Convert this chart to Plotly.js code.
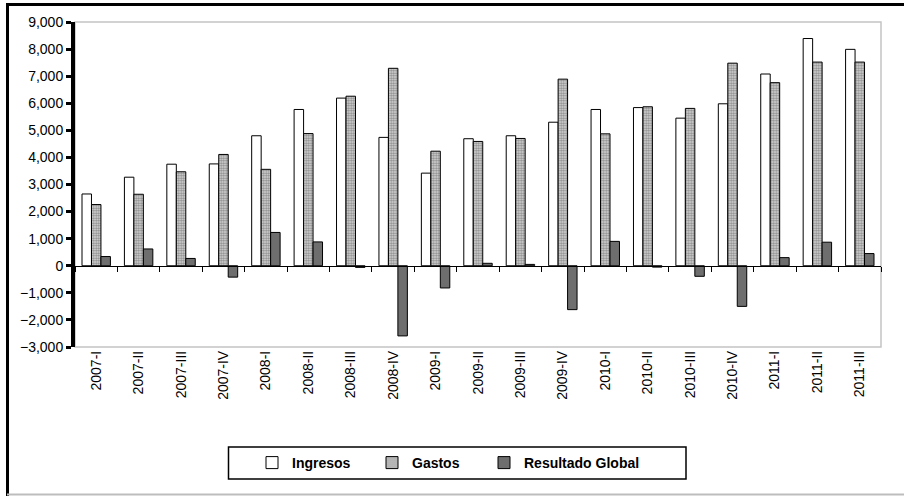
<!DOCTYPE html>
<html>
<head>
<meta charset="utf-8">
<script src="https://cdn.plot.ly/plotly-3.0.1.min.js"></script>
<style>
  html, body { margin: 0; padding: 0; background: #ffffff; }
  #chart { width: 904px; height: 496px; }
</style>
</head>
<body>
<div id="chart"></div>
<script>
const quarters = ["2007-I","2007-II","2007-III","2007-IV","2008-I","2008-II","2008-III","2008-IV",
  "2009-I","2009-II","2009-III","2009-IV","2010-I","2010-II","2010-III","2010-IV","2011-I","2011-II","2011-III"];
const ingresos = [2650, 3270, 3750, 3760, 4800, 5770, 6190, 4740, 3420, 4690, 4800, 5300, 5770, 5840, 5450, 5980, 7080, 8390, 7990];
const gastos   = [2260, 2640, 3470, 4110, 3560, 4880, 6260, 7290, 4230, 4590, 4700, 6890, 4870, 5870, 5810, 7480, 6760, 7520, 7520];
const resultado = [340, 620, 270, -420, 1230, 880, -60, -2590, -820, 90, 50, -1620, 900, -50, -390, -1500, 300, 870, 450];
const seriesNames = ["Ingresos", "Gastos", "Resultado Global"];

const FONT = '"Liberation Sans", Arial, sans-serif';
const NARROW = '"Liberation Sans Narrow", "Arial Narrow", "Liberation Sans", Arial, sans-serif';

const traces = [
  {
    type: 'bar', name: seriesNames[0], x: quarters, y: ingresos, legendwidth: 75,
    marker: { color: '#ffffff', line: { color: '#000000', width: 1 } },
    hoverinfo: 'x+y+name'
  },
  {
    type: 'bar', name: seriesNames[1], x: quarters, y: gastos, legendwidth: 67,
    marker: {
      color: '#d0d0d0',
      line: { color: '#000000', width: 1 },
      pattern: { shape: '.', size: 2.5, solidity: 0.6, fgcolor: '#8a8a8a', bgcolor: '#e2e2e2', fillmode: 'replace' }
    },
    hoverinfo: 'x+y+name'
  },
  {
    type: 'bar', name: seriesNames[2], x: quarters, y: resultado, legendwidth: 125,
    marker: { color: '#6e6e6e', line: { color: '#000000', width: 1 } },
    hoverinfo: 'x+y+name'
  },
  {
    type: 'scatter', mode: 'none', x: quarters, y: resultado,
    xaxis: 'x2', yaxis: 'y', showlegend: false, hoverinfo: 'skip'
  }
];

const L = 75, R = 881, T = 22, B = 347, W = 904, H = 496;
const px = v => (v - L) / (R - L);
const py = v => (B - v) / (B - T);

const layout = {
  width: W, height: H,
  margin: { l: L, r: W - R, t: T, b: H - B, pad: 0 },
  paper_bgcolor: '#ffffff', plot_bgcolor: '#ffffff',
  font: { family: FONT, color: '#000000', size: 13 },
  barmode: 'group', bargap: 0.33, bargroupgap: 0,
  showlegend: true,
  legend: {
    orientation: 'h', x: px(252), xanchor: 'left', y: py(463), yanchor: 'middle',
    font: { family: FONT, size: 14, color: '#000000', weight: 'bold' },
    bgcolor: 'rgba(0,0,0,0)', borderwidth: 0, itemwidth: 30, traceorder: 'normal'
  },
  xaxis: {
    type: 'category', categoryarray: quarters, range: [-0.5, quarters.length - 0.5],
    anchor: 'free', position: 0.25,
    showline: true, linecolor: '#000000', linewidth: 1,
    ticks: 'outside', tickson: 'boundaries', ticklen: 5, tickwidth: 1, tickcolor: '#000000',
    showticklabels: false, showgrid: false, zeroline: false, fixedrange: true
  },
  xaxis2: {
    type: 'category', categoryarray: quarters, range: [-0.5, quarters.length - 0.5],
    overlaying: 'x', anchor: 'y', side: 'bottom',
    showline: false, ticks: '', showgrid: false, zeroline: false,
    tickangle: -90, tickfont: { family: NARROW, size: 14, color: '#000000' },
    fixedrange: true
  },
  yaxis: {
    range: [-3000, 9000], dtick: 1000, tick0: 0, tickformat: ',d',
    showline: true, linecolor: '#000000', linewidth: 4,
    ticks: 'outside', ticklen: 5, tickwidth: 3, tickcolor: '#000000',
    tickfont: { family: FONT, size: 14, color: '#000000' },
    showgrid: false, zeroline: false, fixedrange: true
  },
  shapes: [
    { type: 'rect', xref: 'paper', yref: 'paper', x0: 0, x1: 1, y0: 0, y1: 1,
      line: { color: '#c4c4c4', width: 1.5 }, layer: 'below' },
    { type: 'line', xref: 'paper', yref: 'paper', x0: px(7), x1: px(904), y0: py(4.5), y1: py(4.5),
      line: { color: '#000000', width: 3 } },
    { type: 'line', xref: 'paper', yref: 'paper', x0: px(7.5), x1: px(7.5), y0: py(3), y1: py(496),
      line: { color: '#000000', width: 3 } },
    { type: 'line', xref: 'paper', yref: 'paper', x0: px(7), x1: px(904), y0: py(494.5), y1: py(494.5),
      line: { color: '#bdbdbd', width: 2 } },
    { type: 'rect', xref: 'paper', yref: 'paper', x0: px(228.5), x1: px(686), y0: py(479), y1: py(447),
      line: { color: '#000000', width: 1.5 }, fillcolor: 'rgba(0,0,0,0)' }
  ]
};

Plotly.newPlot('chart', traces, layout, { displayModeBar: false, staticPlot: true });
</script>
</body>
</html>
